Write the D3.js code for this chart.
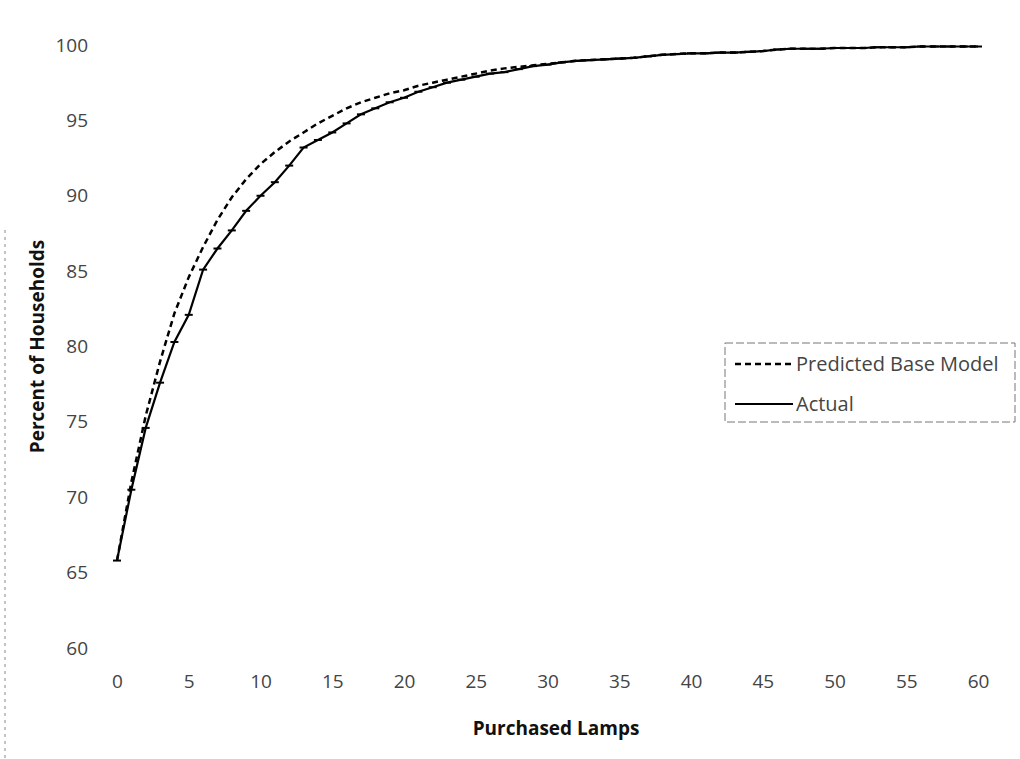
<!DOCTYPE html>
<html>
<head>
<meta charset="utf-8">
<script src="https://cdn.jsdelivr.net/npm/d3@7"></script>
<style>
  body { margin: 0; background: #fff; }
  text { font-family: "Open Sans", sans-serif; }
</style>
</head>
<body>
<div id="chart"></div>
<script>
// data
const lamps = [];
for (let i = 0; i <= 60; i++) lamps.push(i);

const actual = [
  65.8, 70.5, 74.6, 77.6, 80.3, 82.1, 85.1, 86.5, 87.7, 89.0,
  90.0, 90.9, 92.0, 93.2, 93.7, 94.2, 94.8, 95.4, 95.8, 96.2,
  96.5, 96.9, 97.2, 97.5, 97.7, 97.9, 98.1, 98.2, 98.4, 98.6,
  98.7, 98.85, 98.95, 99.0, 99.05, 99.1, 99.15, 99.25, 99.35, 99.4,
  99.45, 99.45, 99.5, 99.5, 99.55, 99.6, 99.7, 99.75, 99.75, 99.75,
  99.8, 99.8, 99.8, 99.85, 99.85, 99.85, 99.9, 99.9, 99.9, 99.9,
  99.9,
];

const predicted = [
  65.8, 71.0, 75.4, 79.0, 82.2, 84.6, 86.6, 88.4, 89.9, 91.1,
  92.1, 92.9, 93.6, 94.2, 94.8, 95.3, 95.8, 96.2, 96.5, 96.8,
  97.0, 97.3, 97.5, 97.7, 97.9, 98.1, 98.3, 98.45, 98.55, 98.65,
  98.75, 98.85, 98.95, 99.0, 99.05, 99.1, 99.15, 99.25, 99.35, 99.4,
  99.45, 99.45, 99.5, 99.5, 99.55, 99.6, 99.7, 99.75, 99.75, 99.75,
  99.8, 99.8, 99.8, 99.85, 99.85, 99.85, 99.9, 99.9, 99.9, 99.9,
  99.9,
];

const xTicks = [0, 5, 10, 15, 20, 25, 30, 35, 40, 45, 50, 55, 60];
const yTicks = [60, 65, 70, 75, 80, 85, 90, 95, 100];
const seriesNames = ["Predicted Base Model", "Actual"];

// Controlling Constant
const svgWidth = 1020,
  svgHeight = 759;
const margin = { top: 45, right: 42, bottom: 111, left: 117 },
  width = svgWidth - margin.left - margin.right,
  height = svgHeight - margin.top - margin.bottom;

const svg = d3
  .select("#chart")
  .append("svg")
  .attr("width", svgWidth)
  .attr("height", svgHeight);

// scanned page edge on the left
svg
  .append("line")
  .attr("x1", 5)
  .attr("x2", 5)
  .attr("y1", 230)
  .attr("y2", svgHeight)
  .attr("stroke", "#888")
  .attr("stroke-width", 1)
  .attr("stroke-dasharray", "3,4");

const g = svg
  .append("g")
  .attr("transform", "translate(" + margin.left + "," + margin.top + ")");

const x = d3.scaleLinear().domain([0, 60]).range([0, width]);
const y = d3.scaleLinear().domain([60, 100]).range([height, 0]);

// X axis (labels only)
const xAxis = g
  .append("g")
  .attr("transform", "translate(0," + height + ")")
  .call(d3.axisBottom(x).tickValues(xTicks).tickSize(0).tickPadding(27));
xAxis.select(".domain").remove();
xAxis
  .selectAll("text")
  .attr("font-family", "'Open Sans', sans-serif")
  .attr("font-size", 19)
  .attr("fill", "#444");

// Y axis (labels only)
const yAxis = g
  .append("g")
  .call(d3.axisLeft(y).tickValues(yTicks).tickSize(0).tickPadding(29));
yAxis.select(".domain").remove();
yAxis
  .selectAll("text")
  .attr("font-family", "'Open Sans', sans-serif")
  .attr("font-size", 19)
  .attr("fill", "#444");

// axis titles
svg
  .append("text")
  .attr("x", 556)
  .attr("y", 735)
  .attr("text-anchor", "middle")
  .attr("font-size", 19)
  .attr("font-weight", "bold")
  .attr("fill", "#111")
  .text("Purchased Lamps");

svg
  .append("text")
  .attr("transform", "translate(44," + (margin.top + height / 2) + ") rotate(-90)")
  .attr("text-anchor", "middle")
  .attr("font-size", 19)
  .attr("font-weight", "bold")
  .attr("fill", "#111")
  .text("Percent of Households");

const line = d3
  .line()
  .x(function (d, i) {
    return x(lamps[i]);
  })
  .y(function (d) {
    return y(d);
  });

// predicted (dashed)
g.append("path")
  .datum(predicted)
  .attr("fill", "none")
  .attr("stroke", "#000")
  .attr("stroke-width", 2.5)
  .attr("stroke-dasharray", "6,4")
  .attr("d", line);

// actual (solid with small markers)
g.append("path")
  .datum(actual)
  .attr("fill", "none")
  .attr("stroke", "#000")
  .attr("stroke-width", 2.2)
  .attr("d", line);

g.selectAll(".mark")
  .data(actual)
  .enter()
  .append("line")
  .attr("class", "mark")
  .attr("x1", function (d, i) {
    return x(lamps[i]) - 4;
  })
  .attr("x2", function (d, i) {
    return x(lamps[i]) + 4;
  })
  .attr("y1", function (d) {
    return y(d);
  })
  .attr("y2", function (d) {
    return y(d);
  })
  .attr("stroke", "#000")
  .attr("stroke-width", 2);

// legend
const legend = svg.append("g").attr("transform", "translate(725,343)");
legend
  .append("rect")
  .attr("width", 290)
  .attr("height", 79)
  .attr("fill", "#fff")
  .attr("stroke", "#777")
  .attr("stroke-width", 1)
  .attr("stroke-dasharray", "8,3");

const items = legend
  .selectAll(".item")
  .data(seriesNames)
  .enter()
  .append("g")
  .attr("class", "item")
  .attr("transform", function (d, i) {
    return "translate(0," + (21 + i * 40) + ")";
  });

items
  .append("line")
  .attr("x1", 10)
  .attr("x2", 68)
  .attr("stroke", "#000")
  .attr("stroke-width", function (d, i) {
    return i === 0 ? 2.5 : 2.2;
  })
  .attr("stroke-dasharray", function (d, i) {
    return i === 0 ? "6,4" : null;
  });

items
  .append("text")
  .attr("x", 71)
  .attr("dy", "0.35em")
  .attr("font-size", 20)
  .attr("fill", "#444")
  .text(function (d) {
    return d;
  });
</script>
</body>
</html>
